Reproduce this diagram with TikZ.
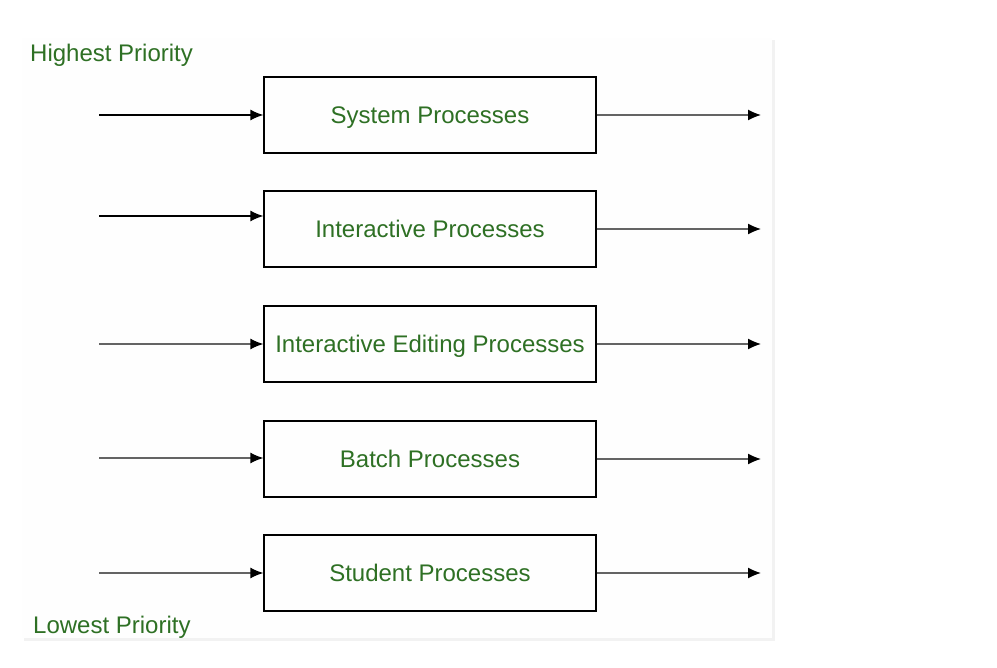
\documentclass[tikz,border=0pt]{standalone}
\usepackage{fontspec}
\setmainfont{Liberation Sans}
\usetikzlibrary{arrows.meta}
\definecolor{prioGreen}{RGB}{46,112,36}
\definecolor{panelGray}{RGB}{254,254,254}
\definecolor{shadowGray}{RGB}{242,242,242}
\definecolor{lineGray}{RGB}{100,100,100}
\tikzset{
  proc/.style={draw=black, line width=1.3pt, minimum width=332pt, minimum height=76pt,
    inner sep=0pt, text depth=0pt, text=prioGreen, font=\fontsize{24}{28}\selectfont},
  prio/.style={text=prioGreen, font=\fontsize{24}{28}\selectfont, inner sep=0pt, anchor=west},
  arr/.style={line width=1.3pt, -{Latex[length=13pt,width=11pt,color=black]}},
}
\begin{document}
\begin{tikzpicture}[x=1pt,y=-1pt]
\useasboundingbox (0,0) rectangle (997,668);
\fill[shadowGray] (24,40) rectangle (775,641);
\fill[panelGray] (22,38) rectangle (772,638);

\node (P-1) at (430,115) [proc]{System Processes};
\node (P-2) at (430,229) [proc]{Interactive Processes};
\node (P-3) at (430,344) [proc]{Interactive Editing Processes};
\node (P-4) at (430,459) [proc]{Batch Processes};
\node (P-5) at (430,573) [proc]{Student Processes};

\node (H) at (30,55) [prio]{Highest Priority};
\node (L) at (33,627) [prio]{Lowest Priority};

\coordinate (in-1) at (99,115);
\coordinate (in-2) at (99,216);
\coordinate (in-3) at (99,344);
\coordinate (in-4) at (99,458);
\coordinate (in-5) at (99,573);

\draw [arr, black] (in-1) -- (in-1 -| P-1.west);
\draw [arr, black] (in-2) -- (in-2 -| P-2.west);
\draw [arr, lineGray] (in-3) -- (in-3 -| P-3.west);
\draw [arr, lineGray] (in-4) -- (in-4 -| P-4.west);
\draw [arr, lineGray] (in-5) -- (in-5 -| P-5.west);

\foreach \i in {1,...,5}{
  \coordinate (out-\i) at (761,0 |- P-\i.east);
  \draw [arr, lineGray] (P-\i.east) -- (out-\i);
}
\end{tikzpicture}
\end{document}
